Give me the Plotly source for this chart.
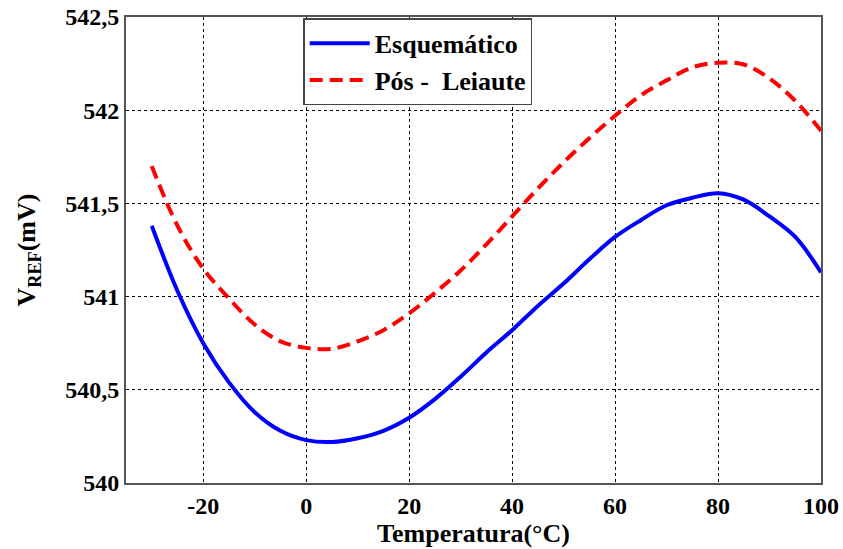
import plotly.graph_objects as go

temp = [-30, -25, -20, -15, -10, -5, 0, 5, 10, 15, 20, 25, 30, 35, 40, 45, 50,
        55, 60, 65, 70, 75, 80, 85, 90, 95, 100]
esquematico = [541.38, 541.03, 540.75, 540.54, 540.38, 540.28, 540.23, 540.22, 540.24,
               540.28, 540.35, 540.45, 540.57, 540.70, 540.82, 540.95, 541.07, 541.20,
               541.32, 541.41, 541.49, 541.53, 541.555, 541.52, 541.43, 541.32, 541.13]
pos_leiaute = [541.70, 541.38, 541.15, 540.99, 540.85, 540.76, 540.725, 540.72, 540.76,
               540.82, 540.91, 541.02, 541.14, 541.28, 541.43, 541.58, 541.72, 541.85,
               541.97, 542.08, 542.16, 542.23, 542.255, 542.245, 542.17, 542.05, 541.89]

x_ticks = [-20, 0, 20, 40, 60, 80, 100]
y_ticks = [540, 540.5, 541, 541.5, 542, 542.5]
y_tick_text = ["540", "540,5", "541", "541,5", "542", "542,5"]

FONT = "Liberation Serif"

fig = go.Figure()
fig.add_trace(go.Scatter(x=temp, y=esquematico, mode="lines", name="Esquemático",
                         line=dict(color="#0000ff", width=4, shape="spline")))
fig.add_trace(go.Scatter(x=temp, y=pos_leiaute, mode="lines", name="Pós -  Leiaute",
                         line=dict(color="#ff0000", width=4, shape="spline", dash="13px,7px")))

fig.update_layout(
    width=843, height=549,
    margin=dict(l=126, r=22, t=17, b=66),
    paper_bgcolor="white", plot_bgcolor="white",
    font=dict(family=FONT, size=24, color="black"),
    legend=dict(x=0.255, y=0.997, xanchor="left", yanchor="top",
                bgcolor="white", bordercolor="#444", borderwidth=1.5,
                font=dict(family=FONT, size=26, color="black", weight="bold"),
                itemwidth=60, tracegroupgap=0),
)
fig.update_xaxes(range=[-35, 100], tickvals=x_ticks, ticktext=[f"<b>{v}</b>" for v in x_ticks],
                 showgrid=True, gridcolor="black", griddash="3px,3px", gridwidth=1,
                 showline=True, linecolor="#555", linewidth=2, mirror=True,
                 ticks="", zeroline=False, automargin=False,
                 tickfont=dict(family=FONT, size=24),
                 title=dict(text="<b>Temperatura(°C)</b>", font=dict(family=FONT, size=26), standoff=2))
fig.update_yaxes(range=[540, 542.5], tickvals=y_ticks, ticktext=[f"<b>{t}</b>" for t in y_tick_text],
                 showgrid=True, gridcolor="black", griddash="3px,3px", gridwidth=1,
                 showline=True, linecolor="#555", linewidth=2, mirror=True,
                 ticks="", zeroline=False, automargin=False,
                 tickfont=dict(family=FONT, size=24),
                 title=dict(text="<b>V<sub>REF</sub>(mV)</b>", font=dict(family=FONT, size=26), standoff=22))

fig.write_html("out.html")
